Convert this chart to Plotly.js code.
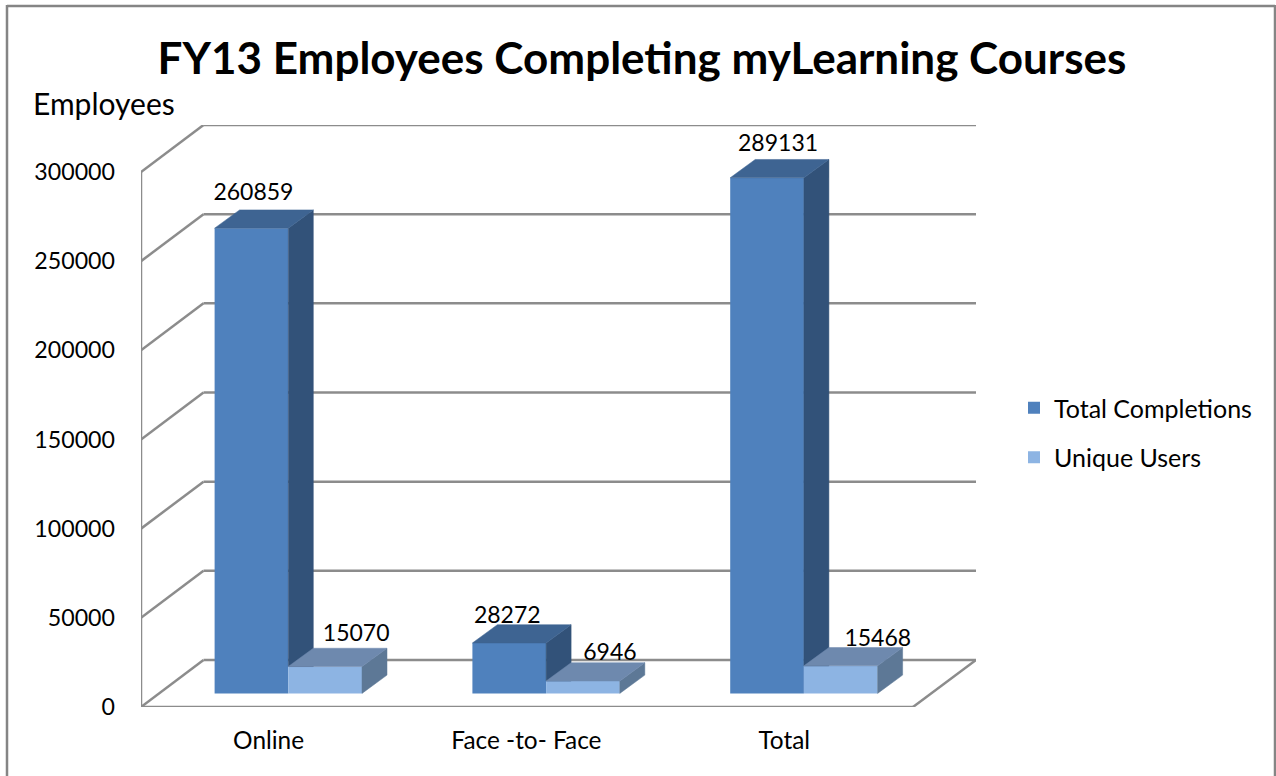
<!DOCTYPE html>
<html>
<head>
<meta charset="utf-8">
<script src="https://cdn.plot.ly/plotly-3.0.1.min.js"></script>
<style>html,body{margin:0;padding:0;background:#fff;overflow:hidden}#chart{width:1276px;height:776px}</style>
</head>
<body>
<div id="chart"></div>
<script>
// ---- data ----
const categories = ['Online', 'Face -to- Face', 'Total'];
const totalCompletions = [260859, 28272, 289131];
const uniqueUsers = [15070, 6946, 15468];
const yTicks = [0, 50000, 100000, 150000, 200000, 250000, 300000];

// ---- geometry of the pseudo-3D box, in axis units ----
const PX_X = 257.8, PX_Y = 535 / 300000;          // pixels per x unit / per value
const plotLeft = 141, plotRight = 976, plotTop = 125, plotBottom = 707;
const px = v => v / PX_X, py = v => v / PX_Y;
const slots = categories.map((_, i) => i + 0.5714); // boundary between the two bars of a group
const barW = px(73.7);
const barBase = py(13.6);
const barDX = px(25), barDZ = py(18.3);
const floorW = px(772), wallDX = px(62.5), wallDZ = py(47);

const COL = {
  line: '#8c8c8c',
  a: {front: '#4f81bd', top: '#3e6492', side: '#325279'},
  b: {front: '#8db4e3', top: '#6e89ae', side: '#5d7896'}
};
const FONT = 'Lato, Carlito, Calibri, sans-serif';

// front faces: real bars
const traces = [
  {type: 'bar', name: 'Total Completions', legendgroup: 'a', x: slots, y: totalCompletions, base: barBase,
   width: barW, offset: -barW, marker: {color: COL.a.front, line: {width: 0}}, hoverinfo: 'y+name'},
  {type: 'bar', name: 'Unique Users', legendgroup: 'b', x: slots, y: uniqueUsers, base: barBase,
   width: barW, offset: 0, marker: {color: COL.b.front, line: {width: 0}}, hoverinfo: 'y+name'}
];

function poly(xs, ys, color) {
  return {type: 'scatter', mode: 'lines', x: xs.concat(xs[0]), y: ys.concat(ys[0]), fill: 'toself',
    fillcolor: color, line: {color: color, width: 0.5}, hoverinfo: 'skip', showlegend: false};
}
// depth faces derived from the values
slots.forEach((s, i) => {
  const ta = barBase + totalCompletions[i], tb = barBase + uniqueUsers[i];
  // dark bar: side (stops where the neighbour's front begins), top
  traces.push(poly([s, s + barDX, s + barDX, s], [ta, ta + barDZ, tb, tb], COL.a.side));
  traces.push(poly([s - barW, s - barW + barDX, s + barDX, s], [ta, ta + barDZ, ta + barDZ, ta], COL.a.top));
  // light bar: side, top
  traces.push(poly([s + barW, s + barW + barDX, s + barW + barDX, s + barW],
                   [barBase, barBase + barDZ, tb + barDZ, tb], COL.b.side));
  traces.push(poly([s, s + barDX, s + barW + barDX, s + barW], [tb, tb + barDZ, tb + barDZ, tb], COL.b.top));
});

// value labels
const labelDxA = [2, -2, 11], labelDyA = [34, 26, 33];
const labelDxB = [31, 27, 37], labelDyB = [31, 27, 26];
traces.push({type: 'scatter', mode: 'text', showlegend: false, hoverinfo: 'skip',
  x: slots.map((s, i) => s - barW / 2 + px(labelDxA[i])).concat(slots.map((s, i) => s + barW / 2 + px(labelDxB[i]))),
  y: totalCompletions.map((v, i) => barBase + v + py(labelDyA[i])).concat(uniqueUsers.map((v, i) => barBase + v + py(labelDyB[i]))),
  text: totalCompletions.concat(uniqueUsers).map(String),
  textposition: 'middle center', textfont: {family: FONT, size: 23, color: '#000'}, cliponaxis: false});

// box: walls and floor, behind everything
const ln = (x0, y0, x1, y1) => ({type: 'line', layer: 'below', xref: 'x', yref: 'y', x0, y0, x1, y1,
  line: {color: COL.line, width: 2.5}});
const shapes = [];
yTicks.forEach(t => {
  shapes.push(ln(0, t, wallDX, t + wallDZ));
  shapes.push(ln(wallDX, t + wallDZ, px(plotRight - plotLeft), t + wallDZ));
});
shapes.push(ln(0, 0, 0, 300000));
shapes.push(ln(0, 0, floorW, 0));
shapes.push(ln(floorW, 0, px(plotRight - plotLeft), wallDZ));

// outer frame
const W = plotRight - plotLeft, H = plotBottom - plotTop;
const pageX = p => (p - plotLeft) / W, pageY = p => (plotBottom - p) / H;
const frame = (a, b, c, d) => ({type: 'line', layer: 'below', xref: 'paper', yref: 'paper',
  x0: pageX(a), y0: pageY(b), x1: pageX(c), y1: pageY(d), line: {color: '#858585', width: 2.5}});
shapes.push(frame(7, 6, 1275, 6), frame(7, 5, 7, 776), frame(1275, 5, 1275, 776));

const layout = {
  width: 1276, height: 776,
  margin: {l: plotLeft, r: 1276 - plotRight, t: plotTop, b: 776 - plotBottom, pad: 0},
  paper_bgcolor: '#fff', plot_bgcolor: 'rgba(0,0,0,0)',
  barmode: 'overlay', showlegend: true,
  font: {family: FONT, color: '#000'},
  title: {text: '<b>FY13 Employees Completing myLearning Courses</b>',
    font: {family: FONT, size: 44, color: '#000'}, x: 642 / 1276, xanchor: 'center', xref: 'container',
    y: 1 - 59 / 776, yref: 'container', yanchor: 'middle'},
  xaxis: {range: [0, px(W)], tickmode: 'array', tickvals: categories.map((_, i) => i + 0.495), ticktext: categories,
    showgrid: false, zeroline: false, showline: false, ticks: '', ticklabelstandoff: 17,
    tickfont: {family: FONT, size: 24.4, color: '#000'}, fixedrange: true},
  yaxis: {range: [0, py(H)], tickmode: 'array', tickvals: yTicks, ticktext: yTicks.map(String),
    showgrid: false, zeroline: false, showline: false, ticks: '', ticklabelstandoff: 25, ticklabelshift: -1.5,
    tickfont: {family: FONT, size: 23.2, color: '#000'}, fixedrange: true},
  legend: {x: (1014 - plotLeft) / W, xanchor: 'left', y: pageY(385), yanchor: 'top',
    font: {family: FONT, size: 25, color: '#000'}, bgcolor: 'rgba(0,0,0,0)', traceorder: 'grouped',
    itemwidth: 30, tracegroupgap: 14},
  annotations: [{text: 'Employees', xref: 'paper', yref: 'paper', x: pageX(31), y: pageY(103),
    xanchor: 'left', yanchor: 'middle', showarrow: false, font: {family: FONT, size: 30, color: '#000'}}],
  shapes
};
Plotly.newPlot('chart', traces, layout, {displayModeBar: false});
</script>
</body>
</html>
